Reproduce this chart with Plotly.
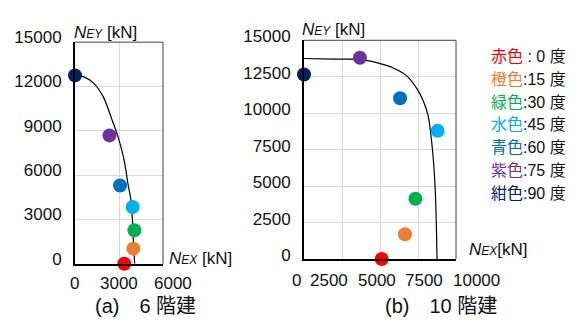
import plotly.graph_objects as go

# ---- data -------------------------------------------------------------
angles = [0, 15, 30, 45, 60, 75, 90]
color_names = ["赤色", "橙色", "緑色", "水色", "青色", "紫色", "紺色"]

# (a) 6-storey building: analysed points
a_nex = [3360, 3980, 4050, 3930, 3070, 2350, 0]
a_ney = [0, 1020, 2270, 3840, 5300, 8690, 12750]
# (a) interaction curve
a_curve_x = [0, 566, 1248, 1930, 2502, 2952, 3293, 3455, 3600, 3798, 3907, 3975, 4043, 4070]
a_curve_y = [12775, 12667, 12248, 11294, 9807, 8536, 7265, 6419, 5466, 4405, 3134, 1653, 381, 0]

# (b) 10-storey building: analysed points
b_nex = [5110, 6640, 7330, 8790, 6320, 3680, 0]
b_ney = [0, 1700, 4130, 8790, 11030, 13800, 12650]
# (b) interaction curve
b_curve_x = [0, 1928, 3684, 4783, 5875, 6757, 7414, 7849, 8178, 8441, 8599, 8684, 8750, 8750]
b_curve_y = [13752, 13707, 13687, 13467, 13105, 12562, 11703, 10842, 9763, 7610, 5450, 3297, 65, 0]

a_xticks = [0, 3000, 6000]
a_yticks = [0, 3000, 6000, 9000, 12000, 15000]
b_xticks = [0, 2500, 5000, 7500, 10000]
b_yticks = [0, 2500, 5000, 7500, 10000, 12500, 15000]

# ---- styling ----------------------------------------------------------
W, H = 587, 327
FONT = "Liberation Sans, Arial, Noto Sans CJK JP"
point_colors = ["#FF0000", "#ED7D31", "#00B050", "#00B0F0", "#0070C0", "#7030A0", "#002060"]
GRID = "#D9D9D9"


def px_x(p):
    return p / W


def px_y(p):
    return 1 - p / H


fig = go.Figure()

for xa, ya, cx, cy, px, py in [
    ("x", "y", a_curve_x, a_curve_y, a_nex, a_ney),
    ("x2", "y2", b_curve_x, b_curve_y, b_nex, b_ney),
]:
    fig.add_trace(go.Scatter(
        x=cx, y=cy, mode="lines", xaxis=xa, yaxis=ya,
        line=dict(color="black", width=1.2, shape="spline", smoothing=0.8),
        cliponaxis=False, hoverinfo="skip", showlegend=False))
    fig.add_trace(go.Scatter(
        x=px, y=py, mode="markers", xaxis=xa, yaxis=ya,
        marker=dict(size=14, color=point_colors, line=dict(width=0)),
        cliponaxis=False, showlegend=False,
        customdata=angles, hovertemplate="%{customdata}°: (%{x}, %{y})<extra></extra>"))

axis_common = dict(showgrid=True, gridcolor=GRID, gridwidth=1, zeroline=False,
                   showline=True, linecolor="black", linewidth=2, ticks="",
                   tickformat="d")

fig.update_layout(
    width=W, height=H,
    margin=dict(l=0, r=0, t=0, b=0),
    paper_bgcolor="white", plot_bgcolor="white",
    font=dict(family=FONT, size=17, color="#111"),
    xaxis=dict(domain=[px_x(75), px_x(163)], range=[0, 6000], tickvals=a_xticks,
               showticklabels=False, anchor="y", **axis_common),
    yaxis=dict(domain=[px_y(266), px_y(30)], range=[0, 15000], tickvals=a_yticks,
               ticklabelstandoff=8, ticklabelshift=-5, anchor="x", **axis_common),
    xaxis2=dict(domain=[px_x(304), px_x(456)], range=[0, 10000], tickvals=b_xticks,
                showticklabels=False, anchor="y2", **axis_common),
    yaxis2=dict(domain=[px_y(261), px_y(28)], range=[0, 15000], tickvals=b_yticks,
                ticklabelstandoff=8, ticklabelshift=-4, anchor="x2", **axis_common),
)

# thin frame on the top and right sides of each plot area
for xr, yr in [("x domain", "y domain"), ("x2 domain", "y2 domain")]:
    fig.add_shape(type="line", xref=xr, yref=yr, x0=0, x1=1, y0=1, y1=1,
                  line=dict(color="#404040", width=1))
    fig.add_shape(type="line", xref=xr, yref=yr, x0=1, x1=1, y0=0, y1=1,
                  line=dict(color="#404040", width=1))

ann = []

# x tick labels, spread slightly so the wide numbers do not collide
a_xshift = [-1, 0, 10]
b_xshift = [-8, -13, -3, 6, 20]
for xr, yr, ticks, shifts, ys in [("x", "y domain", a_xticks, a_xshift, -20),
                                  ("x2", "y2 domain", b_xticks, b_xshift, -21)]:
    for v, s in zip(ticks, shifts):
        ann.append(dict(x=v, y=0, xref=xr, yref=yr, text=f"{v}", showarrow=False,
                        xanchor="center", yanchor="middle", xshift=s, yshift=ys,
                        font=dict(size=17)))

# axis titles
ney = "<i>N</i><i><span style='font-size:12px'>EY</span></i> [kN]"
ann.append(dict(x=px_x(72), y=px_y(20), xref="paper", yref="paper", text=ney,
                showarrow=False, xanchor="left", yanchor="middle", font=dict(size=17)))
ann.append(dict(x=px_x(300), y=px_y(17), xref="paper", yref="paper", text=ney,
                showarrow=False, xanchor="left", yanchor="middle", font=dict(size=17)))
ann.append(dict(x=px_x(167), y=px_y(260), xref="paper", yref="paper",
                text="<i>N</i><i><span style='font-size:12px'>EX</span></i> [kN]",
                showarrow=False, xanchor="left", yanchor="middle", font=dict(size=17)))
ann.append(dict(x=px_x(467), y=px_y(251), xref="paper", yref="paper",
                text="<i>N</i><i><span style='font-size:12px'>EX</span></i>[kN]",
                showarrow=False, xanchor="left", yanchor="middle", font=dict(size=17)))

# captions
ann.append(dict(x=px_x(145), y=px_y(311), xref="paper", yref="paper",
                text="(a)\u30006 階建", showarrow=False, xanchor="center",
                yanchor="middle", font=dict(size=20)))
ann.append(dict(x=px_x(441), y=px_y(311), xref="paper", yref="paper",
                text="(b)\u300010 階建", showarrow=False, xanchor="center",
                yanchor="middle", font=dict(size=20)))

# colour key
for i, (name, ang, col) in enumerate(zip(color_names, angles, point_colors)):
    sep = " : " if ang < 10 else ":"
    ann.append(dict(x=px_x(489), y=px_y(45 + i * 24.4), xref="paper", yref="paper",
                    text=f"<span style='color:{col}'>{name}</span>{sep}{ang} 度",
                    showarrow=False, xanchor="left", yanchor="middle",
                    font=dict(size=16)))

fig.update_layout(annotations=ann)

fig.write_html("out.html")
